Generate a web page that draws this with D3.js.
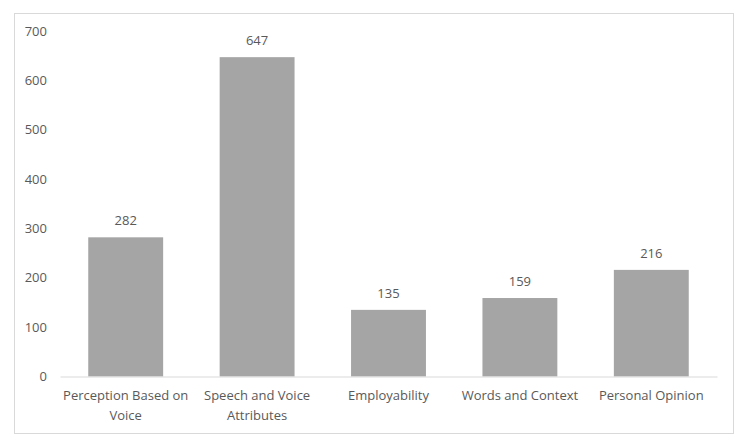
<!DOCTYPE html>
<html><head><meta charset="utf-8">
<script src="https://cdn.jsdelivr.net/npm/d3@7"></script>
<style>body{margin:0;background:#fff}svg{display:block}text{font-family:"Open Sans",sans-serif}</style>
</head><body><svg id="c" width="748" height="442"></svg>
<script>
const categories = [["Perception Based on","Voice"],["Speech and Voice","Attributes"],["Employability"],["Words and Context"],["Personal Opinion"]];
const values = [282, 647, 135, 159, 216];
const yTicks = [0,100,200,300,400,500,600,700];

const svg = d3.select("#c");
svg.append("rect").attr("x",14.5).attr("y",13.5).attr("width",719).attr("height",420)
  .attr("fill","#fff").attr("stroke","#d9d9d9");

const x = d3.scaleBand().domain(d3.range(values.length)).range([60,717]).paddingInner(0.43).paddingOuter(0.215);
const y = d3.scaleLinear().domain([0,700]).range([376.5,31]);

const yAxis = svg.append("g").attr("transform","translate(52,0)")
  .call(d3.axisLeft(y).tickValues(yTicks).tickSize(0).tickPadding(5));
yAxis.select(".domain").remove();
yAxis.selectAll("text").attr("fill","#595959").style("font-size","13px").style("font-family","Open Sans");

svg.selectAll("rect.bar").data(values).join("rect").attr("class","bar")
  .attr("x",(d,i)=>x(i)).attr("width",x.bandwidth())
  .attr("y",d=>y(d)).attr("height",d=>y(0)-y(d)).attr("fill","#a5a5a5");

svg.selectAll("text.val").data(values).join("text").attr("class","val")
  .attr("x",(d,i)=>x(i)+x.bandwidth()/2).attr("y",d=>y(d)-12)
  .attr("text-anchor","middle").attr("fill","#595959").style("font-size","13px").text(d=>d);

const xAxis = svg.append("g").attr("transform",`translate(0,${y(0)})`)
  .call(d3.axisBottom(x).tickSize(0).tickFormat(""));
xAxis.select(".domain").attr("stroke","#d9d9d9");

const lab = svg.append("g");
categories.forEach((lines,i)=>{
  const t = lab.append("text").attr("x",x(i)+x.bandwidth()/2).attr("text-anchor","middle")
    .attr("fill","#595959").style("font-size","13px");
  lines.forEach((l,j)=>t.append("tspan").attr("x",x(i)+x.bandwidth()/2).attr("y",400+j*20).text(l));
});
</script></body></html>
